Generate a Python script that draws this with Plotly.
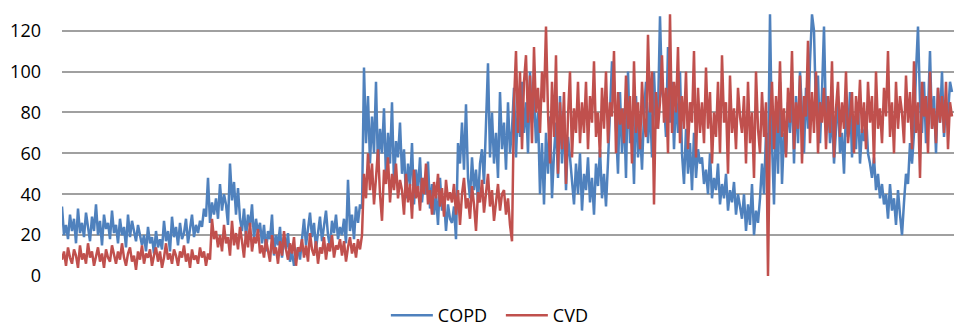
import plotly.graph_objects as go

copd = [
    34,20,25,18,30,22,28,16,33,21,26,19,31,24,17,29,22,35,20,27,
    15,30,23,26,18,32,21,25,16,28,20,24,14,30,19,27,22,17,25,20,
    15,20,12,24,16,19,11,22,14,18,
    13,27,17,22,12,29,19,24,15,26,18,21,28,16,23,30,19,25,21,27,
    24,33,29,48,26,36,30,
    38,28,45,32,40,35,25,55,37,46,30,43,28,
    22,33,19,30,24,35,18,28,21,26,
    16,25,12,22,18,30,10,20,15,24,9,19,13,21,
    7,12,5,10,14,8,
    18,28,15,24,31,19,26,13,22,29,17,25,32,20,14,27,21,30,18,24,
    20,28,16,47,22,30,18,34,26,35,
    33,
    102,65,88,55,78,60,95,52,72,
    60,82,48,70,55,85,45,66,58,75,
    50,62,38,55,44,65,35,52,42,58,36,48,40,56,33,
    45,30,40,25,48,32,38,22,35,28,
    26,34,18,
    65,55,75,52,
    84,
    48,38,58,42,52,36,55,
    62,45,75,104,58,
    80,55,70,48,90,62,75,52,85,60,
    72,92,58,85,68,
    95,70,85,60,100,75,88,65,80,
    40,65,35,70,50,78,38,60,
    75,48,88,55,80,42,68,58,
    45,35,55,40,60,32,50,42,58,36,48,30,55,44,62,38,50,34,56,
    80,105,95,
    70,50,90,60,82,48,100,65,75,45,88,58,72,52,80,
    95,65,85,58,100,72,80,
    127,90,
    85,68,112,75,95,62,88,70,100,
    60,45,72,50,65,42,70,48,62,55,
    58,45,52,40,60,38,48,42,55,35,45,38,50,32,42,36,46,30,40,34,
    28,40,22,35,25,45,20,32,26,38,
    55,40,70,50,
    128,
    65,35,80,50,95,45,70,60,85,
    70,95,55,88,65,100,78,60,92,72,105,128,120,80,98,65,90,122,75,88,
    65,80,55,75,88,60,70,50,82,68,90,58,76,62,85,55,72,66,80,60,
    55,48,58,42,50,38,45,35,
    40,28,45,32,38,25,42,30,20,36,
    50,45,65,55,70,
    100,122,
    85,70,95,65,80,110,72,88,60,92,75,100,68,85,78,95,90,
]

cvd = [
    8,12,5,14,9,6,13,10,4,15,8,11,6,16,9,12,5,10,14,7,
    11,4,13,9,7,15,10,6,12,8,16,9,5,11,14,7,10,3,12,8,
    15,6,11,9,13,5,10,14,7,12,4,9,16,8,11,6,13,10,5,12,
    9,15,7,11,4,13,8,10,6,14,9,12,5,11,8,
    28,18,22,14,20,12,25,16,19,10,27,15,21,13,24,17,9,22,14,26,12,19,16,23,11,
    15,9,18,12,7,20,11,14,6,17,10,22,13,8,16,11,19,5,14,12,
    18,9,15,7,21,13,10,17,6,14,11,19,8,16,12,20,9,15,13,18,
    10,17,7,14,19,11,16,9,18,13,20,
    50,38,60,42,55,35,48,62,40,27,52,45,58,36,50,42,55,38,47,
    42,30,50,36,45,28,52,38,44,32,48,40,55,35,42,30,46,38,50,34,43,29,47,37,41,
    36,45,30,42,25,40,48,33,38,28,44,35,22,41,36,47,31,39,50,34,42,27,38,45,32,40,
    42,30,38,25,17,
    85,110,70,100,62,95,108,75,98,65,112,80,92,
    70,100,85,122,
    80,55,95,68,108,50,85,62,90,45,78,100,58,82,70,95,65,
    85,70,95,62,88,75,105,68,80,58,92,72,100,65,85,78,110,60,90,74,
    82,65,98,72,88,55,105,70,85,62,95,75,68,118,80,100,35,90,72,85,
    108,75,92,60,128,70,95,80,112,65,88,72,100,62,85,75,110,58,92,70,
    85,65,102,72,90,55,80,68,95,60,108,75,85,50,98,70,82,62,92,78,
    70,88,55,95,65,80,48,100,72,60,90,68,85,0,75,95,62,88,70,105,
    68,82,58,92,75,110,62,85,72,98,55,88,78,115,65,90,70,100,60,85,
    75,92,62,88,70,105,58,82,95,68,85,72,100,65,78,90,60,88,74,96,
    70,85,62,95,75,88,55,100,72,82,65,92,78,110,68,85,60,95,72,88,
    80,65,98,75,90,62,105,70,85,48,95,78,88,60,100,72,82,65,92,75,
    88,70,95,62,85,78,
]

series_names = ["COPD", "CVD"]
y_ticks = [0, 20, 40, 60, 80, 100, 120]

fig = go.Figure()
fig.add_trace(go.Scatter(x=list(range(len(copd))), y=copd, mode="lines", name=series_names[0],
                         line=dict(color="#4F81BD", width=2.5)))
fig.add_trace(go.Scatter(x=list(range(len(cvd))), y=cvd, mode="lines", name=series_names[1],
                         line=dict(color="#C0504D", width=2.5)))

fig.update_layout(
    width=954, height=328,
    margin=dict(l=62, r=0, t=0, b=52, autoexpand=False),
    paper_bgcolor="white", plot_bgcolor="white",
    font=dict(family="Open Sans", size=18, color="#000000"),
    showlegend=True,
    legend=dict(orientation="h", x=0.492, xanchor="center", y=-0.21, yanchor="bottom",
                font=dict(size=18), bgcolor="rgba(0,0,0,0)", entrywidth=58,
                borderwidth=0, itemwidth=42),
    xaxis=dict(range=[0, len(copd)], showgrid=False, zeroline=False,
               showticklabels=False, ticks="", showline=False),
    yaxis=dict(range=[0, 135], tickvals=y_ticks, showgrid=True, gridcolor="#A0A0A0",
               gridwidth=1.5, zeroline=False, showline=False, ticks="",
               ticklabelstandoff=20),
)

fig.write_html("out.html", config={"displayModeBar": False},
               post_script="document.body.style.margin='0px';")
